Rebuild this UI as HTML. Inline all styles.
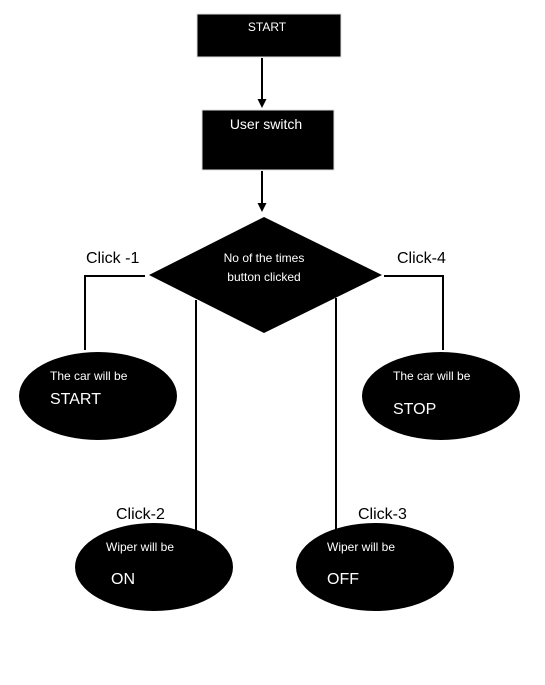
<!DOCTYPE html>
<html><head><meta charset="utf-8"><style>body{margin:0;background:#fff}svg{display:block}</style></head>
<body>
<svg width="545" height="685" xmlns="http://www.w3.org/2000/svg" font-family="Liberation Sans, sans-serif">
<defs><marker id="a" markerUnits="userSpaceOnUse" markerWidth="9" markerHeight="9" refX="5" refY="4.5" orient="auto"><path d="M0,0 L9,4.5 L0,9 z" fill="#000"/></marker></defs>
<rect x="197" y="14" width="144" height="43" fill="#000" stroke="#ddd" stroke-width="1"/>
<text x="267" y="31" fill="#fff" font-size="12" text-anchor="middle">START</text>
<line x1="262" y1="58" x2="262" y2="104" stroke="#000" stroke-width="2" marker-end="url(#a)"/>
<rect x="202" y="110" width="132" height="60" fill="#000" stroke="#ddd" stroke-width="1"/>
<text x="266" y="129" fill="#fff" font-size="14" text-anchor="middle">User switch</text>
<line x1="262" y1="171" x2="262" y2="208" stroke="#000" stroke-width="2" marker-end="url(#a)"/>
<polygon points="264,217 382,275 264,333 149,275" fill="#000"/>
<text x="264" y="262" fill="#fff" font-size="12" text-anchor="middle">No of the times</text>
<text x="264" y="281" fill="#fff" font-size="12" text-anchor="middle">button clicked</text>
<polyline points="145,276 85,276 85,350" fill="none" stroke="#000" stroke-width="2"/>
<polyline points="384,276 443,276 443,350" fill="none" stroke="#000" stroke-width="2"/>
<line x1="196" y1="300" x2="196" y2="530" stroke="#000" stroke-width="2"/>
<line x1="336" y1="298" x2="336" y2="530" stroke="#000" stroke-width="2"/>
<text x="86" y="263" font-size="16">Click -1</text>
<text x="397" y="263" font-size="16">Click-4</text>
<text x="116" y="519" font-size="16">Click-2</text>
<text x="358" y="519" font-size="16">Click-3</text>
<ellipse cx="98" cy="396" rx="79" ry="44" fill="#000"/>
<ellipse cx="441" cy="396" rx="79" ry="44" fill="#000"/>
<ellipse cx="154" cy="567" rx="79" ry="44" fill="#000"/>
<ellipse cx="375" cy="567" rx="79" ry="44" fill="#000"/>
<g fill="#fff" font-size="12">
<text x="50" y="380">The car will be</text>
<text x="393" y="380">The car will be</text>
<text x="106" y="551">Wiper will be</text>
<text x="327" y="551">Wiper will be</text>
</g>
<g fill="#fff" font-size="16">
<text x="50" y="404">START</text>
<text x="393" y="414">STOP</text>
<text x="111" y="584">ON</text>
<text x="327" y="584">OFF</text>
</g>
</svg>
</body></html>
